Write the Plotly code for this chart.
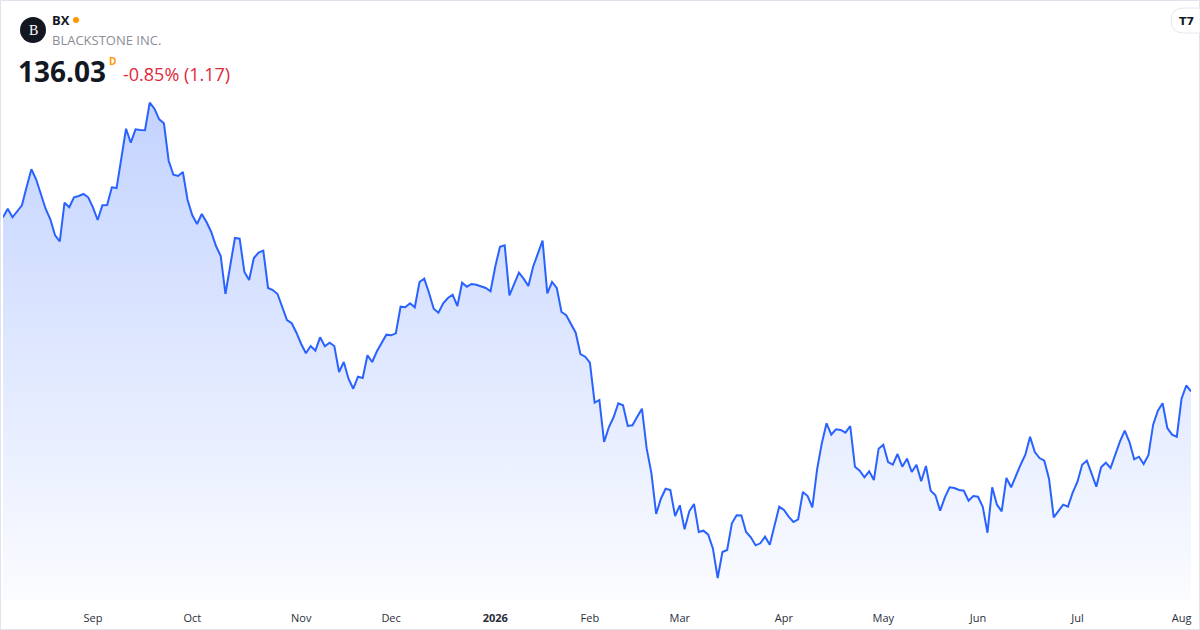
import pandas as pd
import plotly.graph_objects as go

# ---------------------------------------------------------------------------
# data  (daily closes)
# ---------------------------------------------------------------------------
TICKER = "BX"
COMPANY = "BLACKSTONE INC."
LAST = "136.03"
CHANGE = "-0.85% (1.17)"

# NYSE holidays inside the window
HOLIDAYS = ["2025-09-01", "2025-11-27", "2025-12-25", "2026-01-01", "2026-01-19",
            "2026-02-16", "2026-04-03", "2026-05-25", "2026-06-19", "2026-07-03"]

close_aug_oct = [
    170.84, 172.56, 170.84, 172.04, 173.24, 176.96, 180.44, 178.44, 175.24, 172.56,
    170.44, 167.24, 166.04, 173.76, 172.84, 174.84, 175.10, 175.50, 174.84, 172.84,
    170.30, 173.24, 173.30, 176.84, 176.70, 182.56, 188.56, 185.76, 188.44, 188.30,
    188.25, 193.76, 192.56, 190.44, 189.64, 182.16, 179.36, 179.10, 179.90, 174.30,
    171.24, 169.50, 171.50, 169.90, 167.90, 165.10, 163.10, 155.50, 160.96, 166.70,
    166.56, 159.90, 158.30, 162.70, 163.76, 164.16, 156.70, 156.30, 155.50, 152.96,
    150.30, 149.64, 147.76, 145.50,
]
close_nov_jan = [
    143.64, 145.10, 144.16, 146.84, 145.05, 145.76, 145.10, 139.90, 141.90, 138.56,
    136.56, 138.96, 138.70, 143.24, 141.90, 144.04, 145.76, 147.36, 147.24, 147.64,
    152.96, 152.84, 153.64, 152.84, 157.90, 158.56, 155.76, 152.56, 151.76, 153.64,
    154.70, 155.36, 153.10, 157.76, 156.96, 157.50, 157.36, 157.10, 156.70, 156.04,
    160.96, 164.96, 165.24, 155.24, 157.36, 159.76, 158.56, 157.10, 160.96, 163.36,
    166.16, 155.64, 157.90, 156.70, 151.90, 151.24, 149.50, 147.76, 143.50, 142.96,
    141.76, 133.76, 134.30,
]
close_feb_apr = [
    125.90, 128.84, 130.84, 133.64, 133.24, 129.10, 129.24, 130.96, 132.56, 124.56,
    119.64, 111.50, 114.56, 116.56, 116.30, 111.10, 113.24, 108.44, 112.04, 113.50,
    107.90, 108.16, 107.36, 104.56, 98.70, 103.90, 104.30, 109.64, 111.24, 111.20,
    107.90, 106.84, 105.24, 105.64, 106.96, 105.36, 109.10, 112.96, 112.30, 110.96,
    109.90, 110.44, 115.90, 115.10, 112.84, 120.44, 125.64, 129.64, 127.36, 128.44,
    128.30, 127.76, 129.10, 120.96, 120.16, 118.84, 120.04, 118.30,
]
close_may_aug = [
    124.56, 125.36, 121.90, 121.36, 123.50, 120.96, 122.56, 119.90, 121.36, 118.04,
    121.10, 116.16, 115.24, 112.16, 114.84, 116.84, 116.70, 116.30, 116.16, 114.16,
    115.10, 114.96, 112.96, 107.76, 116.84, 113.36, 112.04, 118.70, 116.84, 119.24,
    121.36, 123.36, 126.96, 123.90, 122.70, 122.16, 118.56, 110.84, 112.04, 113.36,
    112.96, 115.76, 117.90, 121.36, 122.16, 119.50, 116.96, 120.84, 121.76, 120.70,
    123.36, 126.04, 128.16, 125.90, 122.44, 122.96, 121.50, 123.24, 129.36, 132.16,
    133.64, 128.70, 127.36, 126.96, 134.56, 137.20, 136.03,
]
closes = close_aug_oct + close_nov_jan + close_feb_apr + close_may_aug

dates = pd.bdate_range("2025-08-05", "2026-08-05")
dates = dates[~dates.isin(pd.to_datetime(HOLIDAYS))]
dates = dates[-len(closes):]
idx = list(range(len(closes)))

# month ticks at first trading day, January shows the year
tickvals, ticktext = [], []
for i, d in enumerate(dates):
    if i > 0 and d.month != dates[i - 1].month:
        tickvals.append(i)
        ticktext.append(f"<b>{d.year}</b>" if d.month == 1 else d.strftime("%b"))

# ---------------------------------------------------------------------------
# geometry helpers (pixel -> paper)
# ---------------------------------------------------------------------------
W, H = 1200, 630
ML, MR, MT, MB = 3, 9, 10, 30
PW, PH = W - ML - MR, H - MT - MB
Y_LO, Y_HI = 94.3, 212.3


def px(x):
    return (x - ML) / PW


def py(y):
    return (H - MB - y) / PH


BLUE = "#2962ff"
FONT = "Open Sans, Roboto, sans-serif"

fig = go.Figure()
fig.add_trace(go.Scatter(
    x=idx, y=closes, customdata=dates.strftime("%b %d, %Y"),
    mode="lines", line=dict(color=BLUE, width=2),
    fill="tozeroy",
    fillgradient=dict(type="vertical", start=Y_LO, stop=max(closes),
                      colorscale=[[0, "rgba(41,98,255,0.02)"],
                                  [1, "rgba(41,98,255,0.28)"]]),
    hovertemplate="%{customdata}<br>%{y:.2f}<extra></extra>",
    showlegend=False,
))

shapes = [
    # card border
    dict(type="rect", xref="paper", yref="paper", layer="above",
         x0=px(0.5), x1=px(W - 0.5), y0=py(H - 0.5), y1=py(0.5),
         line=dict(color="#e0e3eb", width=1)),
    # logo circle
    dict(type="circle", xref="paper", yref="paper",
         x0=px(20), x1=px(46), y0=py(43), y1=py(17),
         fillcolor="#131722", line=dict(width=0)),
    # live dot
    dict(type="circle", xref="paper", yref="paper",
         x0=px(73), x1=px(79), y0=py(23), y1=py(17),
         fillcolor="#ff9800", line=dict(width=0)),
    # tv badge
    dict(type="path", xref="paper", yref="paper",
         path=(f"M {px(1184)},{py(8)} L {px(1200)},{py(8)} L {px(1200)},{py(33)} "
               f"L {px(1184)},{py(33)} Q {px(1171)},{py(33)} {px(1171)},{py(20.5)} "
               f"Q {px(1171)},{py(8)} {px(1184)},{py(8)} Z"),
         fillcolor="white", line=dict(color="#e6e8ee", width=1)),
]

ann = [
    dict(x=px(33), y=py(30.5), text="B", xanchor="center", yanchor="middle",
         font=dict(family="Liberation Serif, serif", size=14, color="white")),
    dict(x=px(50), y=py(20), text=f"<b>{TICKER}</b>", xanchor="left", yanchor="middle",
         font=dict(family=FONT, size=13, color="#131722")),
    dict(x=px(50), y=py(40), text=COMPANY, xanchor="left", yanchor="middle",
         font=dict(family=FONT, size=13, color="#8a8d96")),
    dict(x=px(16), y=py(71), text=f"<b>{LAST}</b>", xanchor="left", yanchor="middle",
         font=dict(family=FONT, size=28, color="#131722")),
    dict(x=px(107), y=py(61), text="<b>D</b>", xanchor="left", yanchor="middle",
         font=dict(family=FONT, size=10, color="#ff9800")),
    dict(x=px(121), y=py(74), text=CHANGE, xanchor="left", yanchor="middle",
         font=dict(family=FONT, size=18, color="#e0283c")),
    dict(x=px(1186), y=py(21), text="<b>T7</b>", xanchor="center", yanchor="middle",
         font=dict(family="DejaVu Sans, sans-serif", size=11, color="#131722")),
]
for a in ann:
    a.update(xref="paper", yref="paper", showarrow=False)

fig.update_layout(
    width=W, height=H,
    margin=dict(l=ML, r=MR, t=MT, b=MB),
    paper_bgcolor="white", plot_bgcolor="white",
    shapes=shapes, annotations=ann,
    hovermode="x",
    xaxis=dict(range=[0, len(closes) - 1], tickvals=tickvals, ticktext=ticktext,
               showgrid=False, zeroline=False, showline=False,
               ticks="outside", ticklen=8, tickcolor="rgba(0,0,0,0)",
               tickfont=dict(family=FONT, size=11, color="#2a2e39")),
    yaxis=dict(range=[Y_LO, Y_HI], visible=False, showgrid=False, zeroline=False),
)

# page body has a default 8px margin; drop it so the card sits at the corner
fig.write_html("out.html", config={"displayModeBar": False},
               post_script="document.body.style.margin='0';")
